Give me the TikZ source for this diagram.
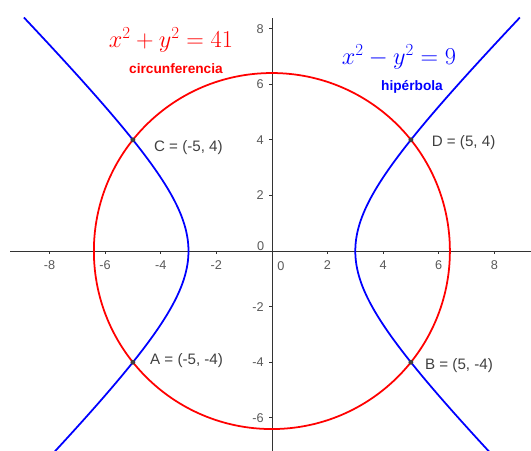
\documentclass[tikz,border=0pt]{standalone}
\usepackage{fontspec}
\usepackage{amsmath}
\usetikzlibrary{positioning}
\newfontfamily\sansfont{Liberation Sans}

\begin{document}
\begin{tikzpicture}[
        x=1cm, y=1cm,
        axisline/.style={draw=black!80, line width=0.8pt},
        ticklabel/.style={font=\sansfont\fontsize{13}{15}\selectfont, text=black!65, inner sep=1pt},
        curve/.style={line width=1.8pt},
        pt/.style={circle, fill=black!75, inner sep=0pt, minimum size=5pt},
        ptlabel/.style={font=\sansfont\fontsize{15.5}{18}\selectfont, text=black!75, inner sep=0pt},
        eqn/.style={font=\fontsize{23}{28}\selectfont, inner sep=0pt},
        curvename/.style={font=\sansfont\bfseries\fontsize{14}{17}\selectfont, inner sep=0pt}
    ]
    \useasboundingbox (-9.78,-7.19) rectangle (9.32,9.03);

    % axes
    \coordinate (xl) at (-9.42,0);
    \coordinate (xr) at (9.32,0);
    \coordinate (yb) at (0,-7.19);
    \coordinate (yt) at (0,8.38);
    \draw[axisline] (xl) -- (xr);
    \draw[axisline] (yb) -- (yt);

    \foreach \v in {-8,-6,-4,-2,2,4,6,8} {
        \draw[axisline] (\v,0) -- (\v,-0.11);
        \node (tx\v) [ticklabel, anchor=north] at (\v,-0.32) {\v};
    }
    \foreach \v in {-6,-4,-2,2,4,6,8} {
        \draw[axisline] (0,\v) -- (-0.11,\v);
        \node (ty\v) [ticklabel, anchor=east] at (-0.25,\v) {\v};
    }
    \node (tx0) [ticklabel] at (0.32,-0.54) {0};
    \node (ty0) [ticklabel] at (-0.4,0.18) {0};

    % curves
    \begin{scope}
        \clip (-9.78,-7.19) rectangle (9.32,9.03);
        \draw[curve, red] (0,0) circle ({sqrt(41)});
        \draw[curve, blue] plot[domain=-7.4:8.4, samples=120, smooth] ({sqrt(9+\x*\x)},\x);
        \draw[curve, blue] plot[domain=-7.4:8.4, samples=120, smooth] ({-sqrt(9+\x*\x)},\x);
    \end{scope}

    % intersection points
    \node (C) [pt] at (-5,4) {};
    \node (D) [pt] at (5,4) {};
    \node (A) [pt] at (-5,-4) {};
    \node (B) [pt] at (5,-4) {};

    \node (Clab) [ptlabel, right=0.66cm of C, yshift=-8pt] {C = (-5, 4)};
    \node (Dlab) [ptlabel, right=0.65cm of D, yshift=-2.5pt] {D = (5, 4)};
    \node (Alab) [ptlabel, right=0.52cm of A, yshift=1.5pt] {A = (-5, -4)};
    \node (Blab) [ptlabel, right=0.41cm of B, yshift=-3.5pt] {B = (5, -4)};

    % equations
    \node (circeq) [eqn, text=red] at (-3.63,7.59) {$x^2+y^2=41$};
    \node (circname) [curvename, text=red] at (-3.45,6.55) {circunferencia};
    \node (hypeq) [eqn, text=blue] at (4.57,6.98) {$x^2-y^2=9$};
    \node (hypname) [curvename, text=blue] at (5.04,5.9) {hipérbola};
\end{tikzpicture}
\end{document}
